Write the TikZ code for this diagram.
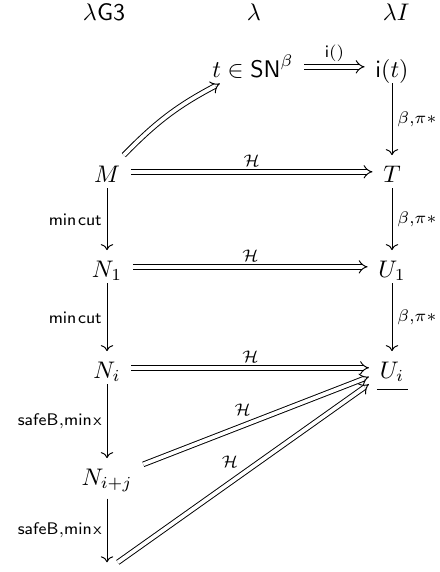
\documentclass[tikz,border=0pt]{standalone}
\usetikzlibrary{arrows.meta,calc,cd}
\begin{document}
\begin{tikzpicture}[x=0.41667pt, y=-0.41667pt,
  cell/.style={inner xsep=1ex, inner ysep=1pt, text height=10pt, text depth=1.5pt, anchor=base},
  hdr/.style={anchor=base, inner sep=0pt},
  sgl/.style={-{cm to}},
  dbl/.style={double equal sign distance, -Implies},
  lab/.style={inner sep=2pt}]
\useasboundingbox (0,0) rectangle (439,572);
% headers
\node[hdr] (h1) at (104,20) {$\lambda\mathsf{G3}$};
\node[hdr] (h2) at (254,20) {$\lambda$};
\node[hdr] (h3) at (396,20) {$\lambda I$};
% cells
\node[cell] (t) at (253,77) {$t\in\mathsf{SN}^\beta$};
\node[cell] (it) at (392,77) {$\mathsf{i}(t)$};
\node[cell] (M) at (107,182) {$M$};
\node[cell] (T) at (392,182) {$T$};
\node[cell] (N1) at (107,277) {$N_1$};
\node[cell] (U1) at (392,277) {$U_1$};
\node[cell] (Ni) at (107,378) {$N_i$};
\node[cell] (Ui) at (392,378) {$U_i$};
\node[cell, text depth=4.5pt] (Nij) at (107,485) {$N_{i+j}$};
\node[inner xsep=5pt, inner ysep=3pt, minimum size=0pt] (B) at (107,570) {};
% arrows
\draw[dbl] (M) to[bend left=9] (t);
\draw[dbl] (t) -- node[lab, above]{$\scriptstyle\mathsf{i}()$} (it);
\draw[sgl] (it) -- node[lab, right]{$\scriptstyle\beta,\pi*$} (T);
\draw[dbl] (M) -- node[lab, above]{$\scriptstyle\mathcal{H}$} (T);
\draw[sgl] (T) -- node[lab, right]{$\scriptstyle\beta,\pi*$} (U1);
\draw[sgl] (M) -- node[lab, left]{$\scriptstyle\mathsf{min}\mkern1.5mu\mathsf{cut}$} (N1);
\draw[dbl] (N1) -- node[lab, above]{$\scriptstyle\mathcal{H}$} (U1);
\draw[sgl] (N1) -- node[lab, left]{$\scriptstyle\mathsf{min}\mkern1.5mu\mathsf{cut}$} (Ni);
\draw[sgl] (U1) -- node[lab, right]{$\scriptstyle\beta,\pi*$} (Ui);
\draw[dbl] (Ni) -- node[lab, above]{$\scriptstyle\mathcal{H}$} (Ui);
\draw[sgl] (Ni) -- node[lab, left]{$\scriptstyle\mathsf{safeB},\mathsf{min}\mkern1.5mu\mathsf{x}$} (Nij);
\draw[dbl] (Nij) -- node[lab, auto]{$\scriptstyle\mathcal{H}$} (Ui);
\draw[sgl] (Nij) -- node[lab, left]{$\scriptstyle\mathsf{safeB},\mathsf{min}\mkern1.5mu\mathsf{x}$} (B);
\draw[dbl] (B) -- node[lab, auto]{$\scriptstyle\mathcal{H}$} (Ui);
\draw ($(Ui.base)+(-15,11)$) -- ($(Ui.base)+(16,11)$);
\end{tikzpicture}
\end{document}
